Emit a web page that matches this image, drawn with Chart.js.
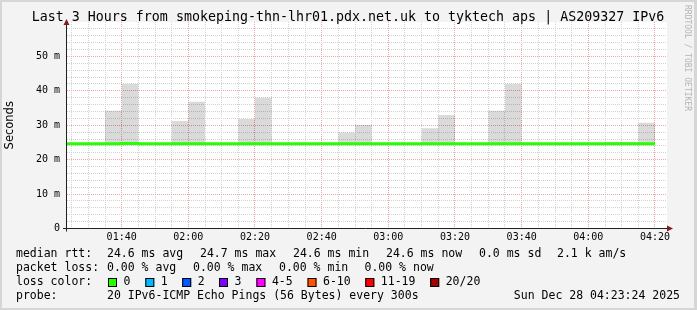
<!DOCTYPE html>
<html>
<head>
<meta charset="utf-8">
<title>smokeping</title>
<script src="https://cdn.jsdelivr.net/npm/chart.js@4.4.1/dist/chart.umd.min.js"></script>
<style>
html, body { margin: 0; padding: 0; background: #f3f3f3; }
canvas { display: block; }
</style>
</head>
<body>
<canvas id="mycanvas" width="697" height="310"></canvas>
<script>
// end time of each 5 minute step (rrd style)
var times = ["01:20","01:25","01:30","01:35","01:40","01:45","01:50","01:55","02:00","02:05",
             "02:10","02:15","02:20","02:25","02:30","02:35","02:40","02:45","02:50","02:55",
             "03:00","03:05","03:10","03:15","03:20","03:25","03:30","03:35","03:40","03:45",
             "03:50","03:55","04:00","04:05","04:10","04:15","04:20"];

// median rtt in ms
var median = [24.6,24.6,24.6,24.6,24.6,24.7,24.6,24.6,24.6,24.6,
              24.6,24.6,24.6,24.6,24.6,24.6,24.6,24.6,24.6,24.6,
              24.6,24.6,24.6,24.6,24.6,24.6,24.6,24.6,24.6,24.6,
              24.6,24.6,24.6,24.6,24.6,24.6,24.6];

// top of the smoke (slowest ping) in ms
var smokeTop = [24.6,24.6,24.6,24.6,34.2,42.0,24.6,24.6,31.2,36.8,
                24.6,24.6,31.8,38.0,24.6,24.6,24.6,24.6,27.9,30.1,
                24.6,24.6,24.6,29.1,33.0,24.6,24.6,34.2,42.0,24.6,
                24.6,24.6,24.6,24.6,25.1,25.1,30.7];

var yLabelled = [0, 10, 20, 30, 40, 50];
var graphStart = "01:23:36";
var graphEnd = "04:23:36";

var titleText = "Last 3 Hours from smokeping-thn-lhr01.pdx.net.uk to tyktech aps | AS209327 IPv6";
var lossLabels = ["0", "1", "2", "3", "4-5", "6-10", "11-19", "20/20"];
var lossColors = ["#26ff00", "#00b8ff", "#0059ff", "#7e00ff", "#ff00ff", "#ff5500", "#ff0000", "#a10000"];
var lossBoxX = [108, 145.3, 182.2, 219, 256.4, 307.5, 365.3, 430.2];

var rttRow = [[16, "median rtt:"], [107, "24.6 ms avg"], [200, "24.7 ms max"], [293, "24.6 ms min"],
              [386, "24.6 ms now"], [479, "0.0 ms sd"], [557, "2.1 k am/s"]];
var lossRow = [[16, "packet loss:"], [107, "0.00 % avg"], [193, "0.00 % max"], [279, "0.00 % min"], [364.5, "0.00 % now"]];
var probeText = "20 IPv6-ICMP Echo Pings (56 Bytes) every 300s";
var dateText = "Sun Dec 28 04:23:24 2025";

var mono = "'DejaVu Sans Mono', monospace";

function toMinutes(t){
	var p = t.split(":");
	var m = +p[0] * 60 + +p[1];
	if (p.length > 2) m += +p[2] / 60;
	return m;
}

function toClock(m){
	var h = Math.floor(m / 60), mm = Math.round(m % 60);
	return (h < 10 ? "0" : "") + h + ":" + (mm < 10 ? "0" : "") + mm;
}

var medianPoints = [];
var smokePoints = [];
for (var i = 0; i < times.length; i++){
	medianPoints.push({x: toMinutes(times[i]), y: median[i]});
	smokePoints.push({x: toMinutes(times[i]), y: smokeTop[i]});
}

var decorations = {
	id: 'decorations',
	beforeDraw: function(chart){
		var ctx = chart.ctx, a = chart.chartArea;
		var W = chart.width, H = chart.height;
		ctx.save();
		ctx.fillStyle = '#f3f3f3';
		ctx.fillRect(0, 0, W, H);
		ctx.fillStyle = '#d6d6d6';
		ctx.fillRect(0, 0, W, 2);
		ctx.fillRect(0, 0, 2, H);
		ctx.fillRect(0, H - 2, W, 2);
		ctx.fillRect(W - 3, 0, 3, H);
		ctx.fillStyle = '#ffffff';
		ctx.fillRect(a.left, a.top, a.right - a.left, a.bottom - a.top);
		ctx.restore();
	},
	afterDraw: function(chart){
		var ctx = chart.ctx, a = chart.chartArea;
		var y0 = chart.scales.y.getPixelForValue(0);
		ctx.save();

		// axes
		ctx.strokeStyle = '#202020';
		ctx.lineWidth = 1;
		ctx.beginPath();
		ctx.moveTo(a.left - 4, Math.floor(y0) + 0.5);
		ctx.lineTo(a.right + 1, Math.floor(y0) + 0.5);
		ctx.moveTo(a.left - 0.5, y0 + 3);
		ctx.lineTo(a.left - 0.5, a.top + 2);
		ctx.stroke();

		// arrows
		ctx.fillStyle = '#7f1f1f';
		ctx.beginPath();
		ctx.moveTo(a.left - 0.5, a.top - 3);
		ctx.lineTo(a.left - 3.5, a.top + 3);
		ctx.lineTo(a.left + 2.5, a.top + 3);
		ctx.closePath();
		ctx.fill();
		ctx.beginPath();
		ctx.moveTo(a.right + 6, Math.floor(y0) + 0.5);
		ctx.lineTo(a.right, Math.floor(y0) - 2.5);
		ctx.lineTo(a.right, Math.floor(y0) + 3.5);
		ctx.closePath();
		ctx.fill();

		// title
		ctx.fillStyle = '#000';
		ctx.font = "13.3px " + mono;
		ctx.textAlign = 'center';
		ctx.textBaseline = 'middle';
		ctx.fillText(titleText, 348, 17.5);

		// rrdtool credit
		ctx.save();
		ctx.translate(687, 5);
		ctx.rotate(Math.PI / 2);
		ctx.fillStyle = '#b4b4b4';
		ctx.font = "8px " + mono;
		ctx.textAlign = 'left';
		ctx.fillText("RRDTOOL / TOBI OETIKER", 0, 0);
		ctx.restore();

		// legend rows
		ctx.fillStyle = '#000';
		ctx.font = "11.5px " + mono;
		ctx.textAlign = 'left';
		rttRow.forEach(function(s){ ctx.fillText(s[1], s[0], 254); });
		lossRow.forEach(function(s){ ctx.fillText(s[1], s[0], 268); });
		ctx.fillText("loss color:", 16, 282);
		for (var k = 0; k < lossLabels.length; k++){
			var bx = lossBoxX[k];
			ctx.fillStyle = lossColors[k];
			ctx.fillRect(bx, 278, 9, 9);
			ctx.strokeStyle = '#000';
			ctx.strokeRect(bx + 0.5, 278.5, 8, 8);
			ctx.fillStyle = '#000';
			ctx.fillText(lossLabels[k], bx + 15.5, 282);
		}
		ctx.fillText("probe:", 16, 296);
		ctx.fillText(probeText, 107, 296);
		ctx.textAlign = 'right';
		ctx.fillText(dateText, 680, 296);
		ctx.restore();
	}
};

var canvas = document.getElementById('mycanvas');

var myChart = new Chart(canvas, {
	type: 'line',
	data: {
		datasets: [
			{
				label: 'median rtt',
				data: medianPoints,
				borderColor: '#26ff00',
				borderWidth: 3,
				pointRadius: 0,
				stepped: 'after',
				fill: false
			},
			{
				label: 'smoke',
				data: smokePoints,
				borderColor: 'rgba(0,0,0,0)',
				borderWidth: 0,
				backgroundColor: 'rgba(0,0,0,0.145)',
				pointRadius: 0,
				stepped: 'after',
				fill: 0
			}
		]
	},
	options: {
		responsive: false,
		animation: false,
		events: [],
		layout: { padding: { top: 22, right: 30, left: 0, bottom: 0 } },
		plugins: {
			legend: { display: false },
			tooltip: { enabled: false },
			title: { display: false }
		},
		scales: {
			x: {
				type: 'linear',
				min: toMinutes(graphStart),
				max: toMinutes(graphEnd),
				afterBuildTicks: function(scale){
					var t = [];
					for (var v = Math.ceil(scale.min / 5) * 5; v <= scale.max; v += 5) t.push({value: v});
					scale.ticks = t;
				},
				afterFit: function(scale){ scale.height = 81.5; },
				grid: {
					drawTicks: false,
					lineWidth: 1,
					color: function(c){
						if (!c.tick) return 'rgba(0,0,0,0)';
						return c.tick.value % 20 === 0 ? '#f0a4a4' : '#d2d2d2';
					}
				},
				border: { display: false, dash: [1, 1] },
				ticks: {
					autoSkip: false,
					maxRotation: 0,
					padding: 3,
					color: '#000',
					font: { family: mono, size: 10 },
					callback: function(v){ return v % 20 === 0 ? toClock(v) : ''; }
				}
			},
			y: {
				min: 0,
				max: 60,
				afterFit: function(scale){ scale.width = 67; },
				grid: {
					drawTicks: false,
					lineWidth: 1,
					color: function(c){
						if (!c.tick || c.tick.value === 0 || c.tick.value === 60) return 'rgba(0,0,0,0)';
						return c.tick.value % 10 === 0 ? '#f0a4a4' : '#d2d2d2';
					}
				},
				border: { display: false, dash: [1, 1] },
				ticks: {
					stepSize: 2,
					autoSkip: false,
					padding: 7,
					color: '#000',
					font: { family: mono, size: 10 },
					callback: function(v){
						if (yLabelled.indexOf(v) < 0) return '';
						return v === 0 ? '0' : v + ' m';
					}
				},
				title: {
					display: true,
					text: 'Seconds',
					color: '#000',
					font: { family: "'DejaVu Sans', sans-serif", size: 11.5 },
					padding: { top: 3.6, bottom: 0 }
				}
			}
		}
	},
	plugins: [decorations]
});
</script>
</body>
</html>
